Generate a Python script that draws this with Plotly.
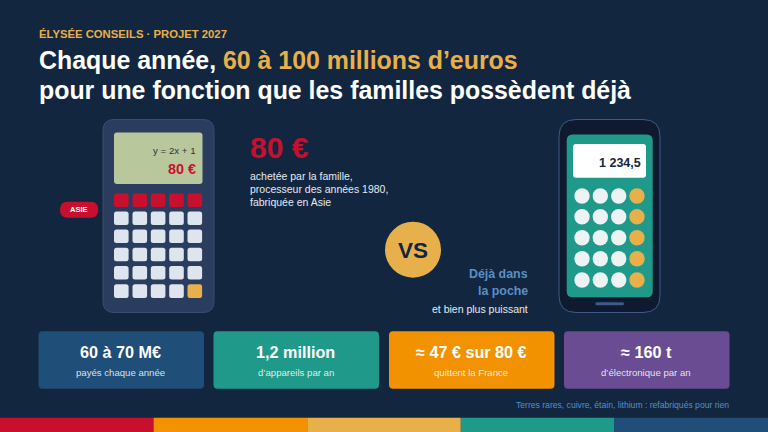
import plotly.graph_objects as go

W, H = 768, 432
FONT = "Liberation Sans"

NAVY = "#12263f"
RED = "#c8102e"
ORANGE = "#f39200"
GOLD = "#e8b04b"
TEAL = "#1f9a8a"
BLUE = "#1f4e79"
PURPLE = "#6a4c93"
SKY = "#5b8fc7"

# texts and values
kicker = "ÉLYSÉE CONSEILS · PROJET 2027"
title_1 = ["Chaque année, ", "60 à 100 millions d’euros"]
title_2 = "pour une fonction que les familles possèdent déjà"
calc_lines = ["achetée par la famille,", "processeur des années 1980,", "fabriquée en Asie"]
kpi_values = ["60 à 70 M€", "1,2 million", "≈ 47 € sur 80 €", "≈ 160 t"]
kpi_labels = ["payés chaque année", "d’appareils par an", "quittent la France", "d’électronique par an"]
kpi_colors = [BLUE, TEAL, ORANGE, PURPLE]
strip_colors = [RED, ORANGE, GOLD, TEAL, BLUE]
kpi_left = [38.5, 213.5, 389, 564]

shapes = []
annotations = []


# rounded rectangle as an svg path, plotly has no rounded rect
def rrect(x0, y0, x1, y1, r, fill, line=None, lw=1):
    path = (
        f"M {x0+r} {y0} L {x1-r} {y0} Q {x1} {y0} {x1} {y0+r} "
        f"L {x1} {y1-r} Q {x1} {y1} {x1-r} {y1} "
        f"L {x0+r} {y1} Q {x0} {y1} {x0} {y1-r} "
        f"L {x0} {y0+r} Q {x0} {y0} {x0+r} {y0} Z"
    )
    shapes.append(dict(type="path", path=path, fillcolor=fill,
                       line=dict(color=line or fill, width=lw if line else 0),
                       xref="x", yref="y", layer="below"))


def circle(cx, cy, r, fill):
    shapes.append(dict(type="circle", x0=cx-r, x1=cx+r, y0=cy-r, y1=cy+r,
                       fillcolor=fill, line=dict(width=0), xref="x", yref="y", layer="below"))


def label(x, y, text, size, color, anchor="left", bold=False):
    if bold:
        text = f"<b>{text}</b>"
    annotations.append(dict(x=x, y=y, xref="x", yref="y", text=text, showarrow=False,
                            xanchor=anchor, yanchor="middle", borderpad=0, borderwidth=0,
                            font=dict(family=FONT, size=size, color=color)))


# header
label(38.5, 33.5, kicker, 11.3, GOLD, bold=True)
label(38.5, 60, f"{title_1[0]}<span style='color:{GOLD}'>{title_1[1]}</span>", 24.9, "#ffffff", bold=True)
label(38.5, 90, title_2, 24.9, "#ffffff", bold=True)

# calculator
rrect(103, 119.5, 214, 312.5, 11, "#2b3d5e", "#3a4d70", 1)
rrect(114, 132.5, 202.5, 184, 3, "#b9c89c")
label(195.5, 150.5, "y = 2x + 1", 9.7, "#2a3440", "right")
label(195.5, 169, "80 €", 14.4, RED, "right", True)
col_x = [114, 132.5, 150.8, 169.2, 187.5]
row_y = [193.5, 211.5, 229.5, 247.7, 266, 284.3]
for j, y in enumerate(row_y):
    for i, x in enumerate(col_x):
        if j == 0:
            c = RED
        elif j == 5 and i == 4:
            c = GOLD
        else:
            c = "#dfe5ee"
        rrect(x, y, x+14.6, y+13.6, 2.5, c)

rrect(60, 201.7, 98.3, 217.7, 8, RED)
label(79, 209.7, "ASIE", 7.5, "#ffffff", "center", True)

# middle text
label(250, 147.5, "80 €", 30, RED, bold=True)
for k, line in enumerate(calc_lines):
    label(250, 175.5 + k*13.3, line, 10.5, "#e6ebf2")

circle(413, 249.7, 28, GOLD)
label(413, 250, "VS", 22.5, NAVY, "center", True)

label(528, 274, "Déjà dans", 12.4, SKY, "right", True)
label(528, 291, "la poche", 12.4, SKY, "right", True)
label(528, 308.5, "et bien plus puissant", 10.5, "#e6ebf2", "right")

# phone
rrect(559, 119.5, 660, 312.5, 17, "#0f1a30", "#3f5a8a", 1)
rrect(566.7, 134.5, 652.7, 297.3, 6, TEAL)
rrect(573, 144, 646, 177.7, 3, "#ffffff")
label(641, 163, "1 234,5", 12.5, NAVY, "right", True)
phone_x = [582, 600.3, 618.7, 637]
phone_y = [196, 216.7, 237.7, 258.7, 280]
for y in phone_y:
    for i, x in enumerate(phone_x):
        circle(x, y, 7.7, GOLD if i == 3 else "#edf2f2")
rrect(595.3, 302.3, 624, 305.3, 1.5, "#3f5a8a")

# kpi cards
for x, val, lab, c in zip(kpi_left, kpi_values, kpi_labels, kpi_colors):
    rrect(x, 331.3, x+165.5, 388.7, 4, c)
    label(x+82.2, 352, val, 16.2, "#ffffff", "center", True)
    label(x+82.2, 372, lab, 9.6, "rgba(255,255,255,0.85)", "center")

label(729, 405, "Terres rares, cuivre, étain, lithium : refabriqués pour rien", 8.6, SKY, "right")

# bottom strip
seg = W / len(strip_colors)
for i, c in enumerate(strip_colors):
    shapes.append(dict(type="rect", x0=i*seg, x1=(i+1)*seg, y0=417.7, y1=432,
                       fillcolor=c, line=dict(width=0), xref="x", yref="y", layer="below"))

fig = go.Figure()
fig.update_layout(
    width=W, height=H,
    margin=dict(l=0, r=0, t=0, b=0),
    paper_bgcolor=NAVY, plot_bgcolor=NAVY,
    xaxis=dict(range=[0, W], visible=False, fixedrange=True),
    yaxis=dict(range=[H, 0], visible=False, fixedrange=True),
    shapes=shapes, annotations=annotations,
    showlegend=False,
)
# the page margin would leave a white frame round the figure
fig.write_html("out.html", config=dict(displayModeBar=False),
               post_script="document.body.style.margin='0';document.body.style.overflow='hidden';")
